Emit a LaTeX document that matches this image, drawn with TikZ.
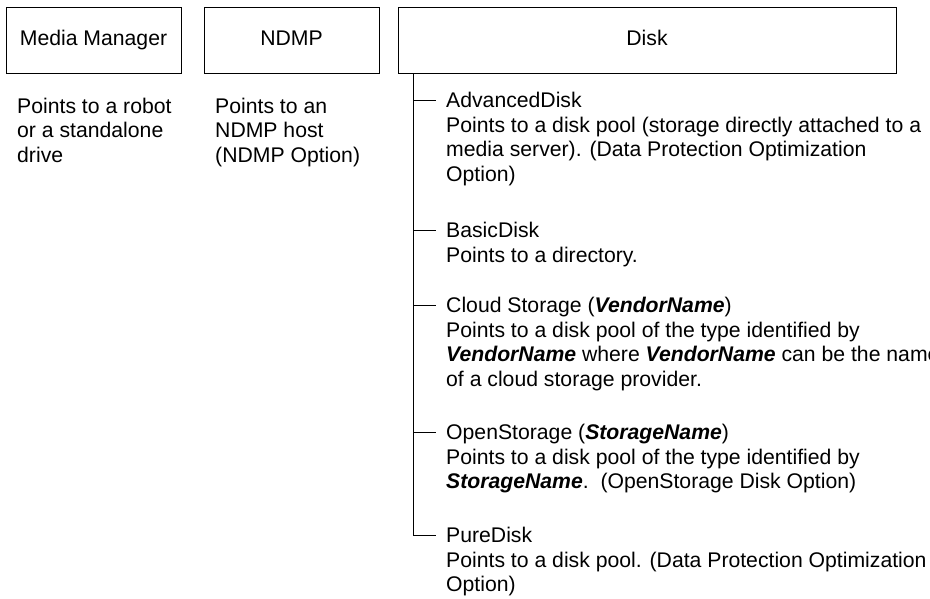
\documentclass[tikz,border=0pt]{standalone}
\usepackage{fontspec}
\setmainfont{Liberation Sans}
\newcommand{\bi}[1]{\textbf{\textit{#1}}}
\begin{document}
\begin{tikzpicture}[x=1pt,y=-1pt,
  every node/.style={inner sep=0pt, font=\fontsize{21.2}{24.5}\selectfont},
  box/.style={draw, line width=1pt, minimum height=66pt, text height=15.3pt, text depth=4.5pt},
  ttl/.style={anchor=base west},
  desc/.style={anchor=base west, align=left},
  conn/.style={line width=1pt}]
\useasboundingbox (0,0) rectangle (930,598);
\clip (0,0) rectangle (930,598);
% top boxes
\node[box, minimum width=175pt] (mm) at (93.5,40) {Media Manager};
\node[box, minimum width=175pt] (ndmp) at (291.5,40) {NDMP};
\node[box, minimum width=498pt] (disk) at (647,40) {Disk};
% left texts (base anchor = baseline of the last line)
\node[desc] (mmtext) at (17,162) {Points to a robot\\or a standalone\\drive};
\node[desc] (ndmptext) at (215,162) {Points to an\\NDMP host\\(NDMP Option)};
% disk entries
\node[ttl] (adv) at (446,107.6) {AdvancedDisk};
\node[desc] (advd) at (446,181.1) {Points to a disk pool (storage directly attached to a\\media server). (Data Protection Optimization\\Option)};
\node[ttl] (basic) at (446,237.6) {BasicDisk};
\node[desc] (basicd) at (446,262.1) {Points to a directory.};
\node[ttl] (cloud) at (446,312.6) {Cloud Storage (\bi{VendorName})};
\node[desc] (cloudd) at (446,386.1) {Points to a disk pool of the type identified by\\\bi{VendorName} where \bi{VendorName} can be the name\\of a cloud storage provider.};
\node[ttl] (open) at (446,439.6) {OpenStorage (\bi{StorageName})};
\node[desc] (opend) at (446,488.6) {Points to a disk pool of the type identified by\\\bi{StorageName}.\ \ (OpenStorage Disk Option)};
\node[ttl] (pure) at (446,542.6) {PureDisk};
\node[desc] (pured) at (446,591.6) {Points to a disk pool. (Data Protection Optimization\\Option)};
% tree connectors
\coordinate (trunk) at ([xshift=16pt]disk.south west);
\coordinate (t1) at ([shift={(-10pt,7.6pt)}]adv.base west);
\coordinate (t2) at ([shift={(-10pt,7.6pt)}]basic.base west);
\coordinate (t3) at ([shift={(-10pt,7.6pt)}]cloud.base west);
\coordinate (t4) at ([shift={(-10pt,7.6pt)}]open.base west);
\coordinate (t5) at ([shift={(-10pt,7.6pt)}]pure.base west);
\draw[conn] (trunk) |- (t5);
\draw[conn] (trunk |- t1) -- (t1);
\draw[conn] (trunk |- t2) -- (t2);
\draw[conn] (trunk |- t3) -- (t3);
\draw[conn] (trunk |- t4) -- (t4);
\end{tikzpicture}
\end{document}
